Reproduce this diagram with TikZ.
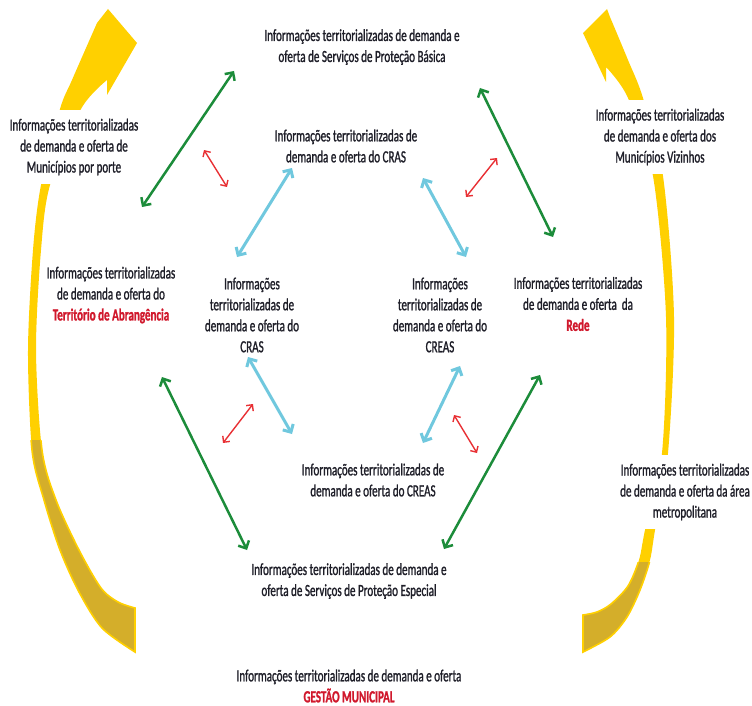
\documentclass[tikz,border=0pt]{standalone}
\usepackage{fontspec}
\setmainfont{Carlito}[FakeStretch=0.65,FakeBold=1.2]
\usetikzlibrary{arrows.meta}
\definecolor{verdeesc}{RGB}{28,140,58}
\definecolor{vermelho}{RGB}{232,48,52}
\definecolor{azulclaro}{RGB}{112,200,222}
\definecolor{amarelo}{RGB}{255,208,0}
\definecolor{ouro}{RGB}{212,174,42}
\definecolor{texto}{RGB}{30,30,40}
\definecolor{realcecor}{RGB}{208,24,44}
\newcommand{\realce}[1]{\textcolor{realcecor}{\bfseries #1}}
\newcommand{\setaesq}{plot[smooth,tension=0.5] coordinates {(107,80) (81,109) (50,185) (41,250) (36,350) (42,450) (56,500) (79,550) (101,588) (118,602) (135,608)} -- (135,652) -- plot[smooth,tension=0.5] coordinates {(135,652) (102,628) (79,592) (60,550) (44,500) (32,450) (28,350) (33,250) (41,185) (60,109) (72,80) (97,23)} -- (108,9) -- (137,43) -- (107,95) -- cycle}
\newcommand{\setadir}{plot[smooth,tension=0.5] coordinates {(606,67) (628,98) (653,176) (666,317) (662,453) (645,530) (639,560) (628,586) (611,604) (597,612) (583,615)} -- (583,652) -- plot[smooth,tension=0.5] coordinates {(583,652) (610,637) (627,617) (640,590) (650,560) (655,530) (668,453) (674,317) (663,176) (643,98) (628,60) (610,17)} -- (607,9) -- (583,33) -- (606,82) -- cycle}
\begin{document}
\begin{tikzpicture}[x=1pt,y=-1pt]
    \tikzset{
    info/.style={align=center,text=texto,inner sep=1pt,font=\fontsize{17}{21}\selectfont},
    corte/.style={info,fill=white,inner xsep=2pt,inner ysep=9pt},
    setaverde/.style={draw=verdeesc,line width=2.5pt,{Straight Barb[length=6pt,width=12pt]}-{Straight Barb[length=6pt,width=12pt]}},
    setavermelha/.style={draw=vermelho,line width=1.4pt,{Straight Barb[length=4.5pt,width=9pt]}-{Straight Barb[length=4.5pt,width=9pt]}},
    setaazul/.style={draw=azulclaro,line width=3pt,{Straight Barb[length=6pt,width=12pt]}-{Straight Barb[length=6pt,width=12pt]}},
    }
    \useasboundingbox (0,0) rectangle (752,706);

    % setas curvas amarelas
    \fill[amarelo] \setaesq;
    \fill[amarelo] \setadir;
    \begin{scope}
    \clip (0,440) rectangle (375,706);
    \filldraw[fill=ouro,draw=amarelo,line width=1.6pt] \setaesq;
    \end{scope}
    \begin{scope}
    \clip (375,562) rectangle (752,706);
    \filldraw[fill=ouro,draw=amarelo,line width=1.6pt] \setadir;
    \end{scope}

    \node[info] (n1) at (362,47) {Informações territorializadas de demanda e\\oferta de Serviços de Proteção Básica};
    \node[corte] (n2) at (74,147) {Informações territorializadas\\de demanda e oferta de\\Municípios por porte};
    \node[info] (n3) at (346,146) {Informações territorializadas de\\demanda e oferta do CRAS};
    \node[corte] (n4) at (660,137) {Informações territorializadas\\de demanda e oferta dos\\Municípios Vizinhos};
    \node[info] (n5) at (111,295) {Informações territorializadas\\de demanda e oferta do\\\realce{Território de Abrangência}};
    \node[info] (n6) at (252,315) {Informações\\territorializadas de\\demanda e oferta do\\CRAS};
    \node[info] (n7) at (440,315) {Informações\\territorializadas de\\demanda e oferta do\\CREAS};
    \node[info] (n8) at (578,304) {Informações territorializadas\\de demanda e oferta~ da\\\realce{Rede}};
    \node[info] (n9) at (373,480) {Informações territorializadas de\\demanda e oferta do CREAS};
    \node[corte] (n10) at (685,492) {Informações territorializadas\\de demanda e oferta da área\\metropolitana};
    \node[info] (n11) at (349,581) {Informações territorializadas de demanda e\\oferta de Serviços de Proteção Especial};
    \node[info,inner sep=0pt] (n12) at (349,686) {Informações territorializadas de demanda e oferta\\\realce{GESTÃO MUNICIPAL}};

    % pontas das setas retas
    \coordinate (g1) at (142,207); \coordinate (g2) at (234,71);
    \coordinate (g3) at (480,88);  \coordinate (g4) at (553,237);
    \coordinate (g5) at (162,377); \coordinate (g6) at (247,550);
    \coordinate (g7) at (444,549); \coordinate (g8) at (540,375);
    \coordinate (r1) at (204,150); \coordinate (r2) at (227,187);
    \coordinate (r3) at (466,197); \coordinate (r4) at (497,158);
    \coordinate (r5) at (223,443); \coordinate (r6) at (253,404);
    \coordinate (r7) at (454,415); \coordinate (r8) at (477,453);
    \coordinate (a1) at (237,257); \coordinate (a2) at (292,168);
    \coordinate (a3) at (423,178); \coordinate (a4) at (466,257);
    \coordinate (a5) at (248,357); \coordinate (a6) at (292,434);
    \coordinate (a7) at (423,443); \coordinate (a8) at (460,366);

    \draw[setaverde] (g1) -- (g2);
    \draw[setaverde] (g3) -- (g4);
    \draw[setaverde] (g5) -- (g6);
    \draw[setaverde] (g7) -- (g8);
    \draw[setavermelha] (r1) -- (r2);
    \draw[setavermelha] (r3) -- (r4);
    \draw[setavermelha] (r5) -- (r6);
    \draw[setavermelha] (r7) -- (r8);
    \draw[setaazul] (a1) -- (a2);
    \draw[setaazul] (a3) -- (a4);
    \draw[setaazul] (a5) -- (a6);
    \draw[setaazul] (a7) -- (a8);
\end{tikzpicture}
\end{document}
